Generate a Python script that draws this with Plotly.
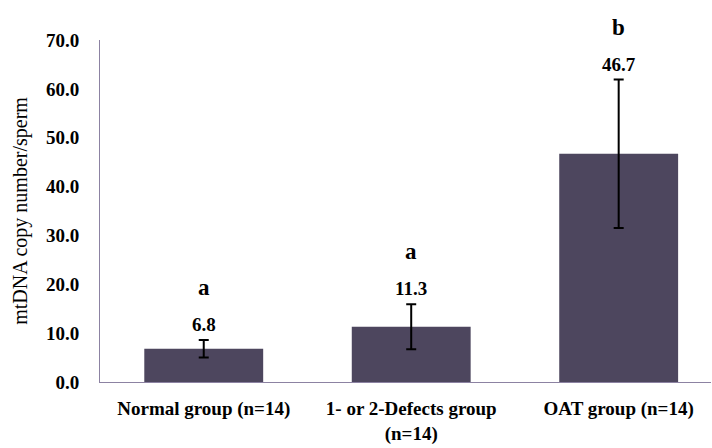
import plotly.graph_objects as go

# Group labels, mean mtDNA copy number per sperm, error (±) and significance letters
groups = ["Normal group (n=14)", "1- or 2-Defects group<br>(n=14)", "OAT group (n=14)"]
means = [6.8, 11.3, 46.7]
errors = [1.8, 4.6, 15.2]
sig_letters = ["a", "a", "b"]
y_ticks = [0, 10, 20, 30, 40, 50, 60, 70]

SERIF = "Liberation Serif, Times New Roman, serif"
BAR_COLOR = "rgb(77,70,94)"
AXIS_COLOR = "rgb(140,130,162)"

fig = go.Figure()
fig.add_trace(go.Bar(
    x=list(range(len(groups))),
    y=means,
    marker=dict(color=BAR_COLOR, line=dict(width=0)),
    error_y=dict(type="data", array=errors, visible=True,
                 color="black", thickness=2, width=5),
    hoverinfo="skip",
))

# Value labels above the error bars, with the significance letter above them
for i, (m, e, s) in enumerate(zip(means, errors, sig_letters)):
    fig.add_annotation(x=i, y=m + e, text=f"<b>{m:.1f}</b>", showarrow=False,
                       yanchor="bottom", yshift=3,
                       font=dict(family=SERIF, size=19, color="black"))
    fig.add_annotation(x=i, y=m + e, text=f"<b>{s}</b>", showarrow=False,
                       yanchor="bottom", yshift=38,
                       font=dict(family=SERIF, size=23, color="black"))

fig.update_layout(
    width=712, height=448,
    margin=dict(l=100, r=1, t=40, b=66),
    paper_bgcolor="white", plot_bgcolor="white",
    bargap=0.427,
    showlegend=False,
    font=dict(family=SERIF, color="black"),
    xaxis=dict(
        range=[-0.5, 2.445],
        tickmode="array",
        tickvals=list(range(len(groups))),
        ticktext=[f"<b>{g}</b>" for g in groups],
        tickfont=dict(family=SERIF, size=19, color="black"),
        showline=True, linecolor=AXIS_COLOR, linewidth=1,
        showgrid=False, zeroline=False, ticks="",
        ticklabelstandoff=9,
    ),
    yaxis=dict(
        range=[0, 70],
        tickmode="array",
        tickvals=y_ticks,
        ticktext=[f"<b>{v:.1f}</b>" for v in y_ticks],
        tickfont=dict(family=SERIF, size=19, color="black"),
        showline=True, linecolor=AXIS_COLOR, linewidth=1,
        showgrid=False, zeroline=False, ticks="",
        ticklabelstandoff=16,
        title=dict(text="mtDNA copy number/sperm",
                   font=dict(family=SERIF, size=20, color="black"),
                   standoff=12),
    ),
)

fig.write_html("out.html")
